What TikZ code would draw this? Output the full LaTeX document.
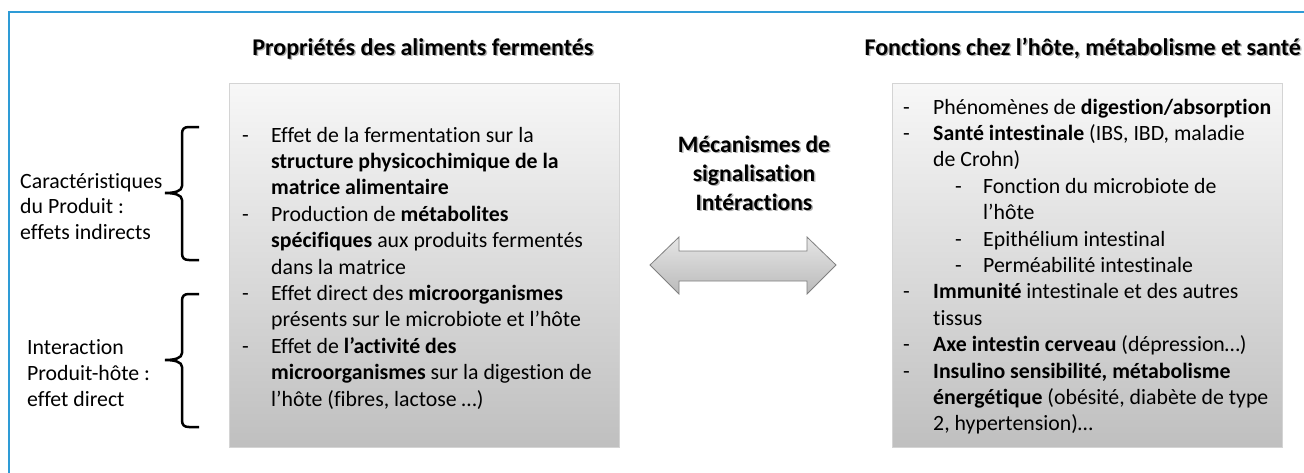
\documentclass[tikz,border=0pt]{standalone}
\usepackage{fontspec}
\setmainfont{Carlito}[Ligatures={NoCommon}]
\definecolor{frameblue}{HTML}{2E9BD6}
\begin{document}
\begin{tikzpicture}[x=1pt,y=-1pt,
  bodytext/.style={anchor=base west,inner sep=0pt,font=\fontsize{21.8}{26}\selectfont},
  labeltext/.style={anchor=base west,inner sep=0pt,font=\fontsize{21.8}{26}\selectfont},
  headtext/.style={inner sep=0pt,font=\bfseries\fontsize{24}{29}\selectfont},
  midtext/.style={anchor=base,inner sep=0pt,font=\bfseries\fontsize{23.6}{29}\selectfont},
  shadowed/.style={text=black!30},
  gbox/.style={draw=black!17,line width=0.8pt,top color=black!3,bottom color=black!25,anchor=north west,inner sep=0pt},
  bracepath/.style={line width=2.5pt,draw=black},
  frameline/.style={draw=frameblue,line width=2pt},
  twoarrow/.style={draw=black!50,line width=0.8pt,top color=black!10,bottom color=black!27}]
\newcommand{\dsh}{\makebox[29pt][l]{-}}
\newcommand{\sdsh}{\makebox[28pt][l]{-}}
\newcommand{\rdsh}{\makebox[30pt][l]{-}}
\useasboundingbox (0,0) rectangle (1304,472);
\fill[white] (0,0) rectangle (1304,472);
% frame
\draw[frameline] (9,480) -- (9,12) -- (1310,12);
% boxes
\node[gbox,minimum width=390pt,minimum height=364pt] (lbox) at (229,83) {};
\node[gbox,minimum width=390pt,minimum height=364pt] (rbox) at (892,83) {};
% titles
\node[headtext,shadowed,anchor=base] (t1s) at (424.5,56.5) {Propriétés des aliments fermentés};
\node[headtext,anchor=base] (t1) at (423,55) {Propriétés des aliments fermentés};
\node[headtext,shadowed,anchor=base east] (t2s) at (1302.5,56.5) {Fonctions chez l’hôte, métabolisme et santé};
\node[headtext,anchor=base east] (t2) at (1301,55) {Fonctions chez l’hôte, métabolisme et santé};
% middle
\node[midtext,shadowed] (m1s) at (755.5,153.5) {Mécanismes de};
\node[midtext,shadowed] (m2s) at (755.5,182.5) {signalisation};
\node[midtext,shadowed] (m3s) at (755.5,211.5) {Intéractions};
\node[midtext] (m1) at (754,152) {Mécanismes de};
\node[midtext] (m2) at (754,181) {signalisation};
\node[midtext] (m3) at (754,210) {Intéractions};
\path[twoarrow] (650,265) -- (679,237) -- (679,251) -- (807,251) -- (807,237) -- (836,265)
  -- (807,294) -- (807,281) -- (679,281) -- (679,294) -- cycle;
% left labels
\node[labeltext] (c1) at (20,188) {Caractéristiques};
\node[labeltext] (c2) at (20,213.5) {du Produit :};
\node[labeltext] (c3) at (20,239) {effets indirects};
\node[labeltext] (i1) at (27,354) {Interaction};
\node[labeltext] (i2) at (27,380) {Produit-hôte :};
\node[labeltext] (i3) at (27,406) {effet direct};
% braces
\foreach \t/\m/\b in {127/193/260, 294/360/427}{
  \draw[bracepath] (199,\t) -- (189,\t) .. controls (184,\t) and (182,{\t+2}) .. (182,{\t+7})
    -- (182,{\m-7}) .. controls (182,{\m-2}) and (175,\m) .. (165,\m)
    .. controls (175,\m) and (182,{\m+2}) .. (182,{\m+7})
    -- (182,{\b-7}) .. controls (182,{\b-2}) and (184,\b) .. (189,\b) -- (199,\b);
}
% left box text
\node[bodytext] (l1) at (242,142) {\dsh Effet de la fermentation sur la};
\node[bodytext] (l2) at (271,168.4) {\textbf{structure physicochimique de la}};
\node[bodytext] (l3) at (271,194.8) {\textbf{matrice alimentaire}};
\node[bodytext] (l4) at (242,221.2) {\dsh Production de \textbf{métabolites}};
\node[bodytext] (l5) at (271,247.6) {\textbf{spécifiques} aux produits fermentés};
\node[bodytext] (l6) at (271,274) {dans la matrice};
\node[bodytext] (l7) at (242,300.4) {\dsh Effet direct des \textbf{microorganismes}};
\node[bodytext] (l8) at (271,326.8) {présents sur le microbiote et l’hôte};
\node[bodytext] (l9) at (242,353.2) {\dsh Effet de \textbf{l’activité des}};
\node[bodytext] (l10) at (271,379.6) {\textbf{microorganismes} sur la digestion de};
\node[bodytext] (l11) at (271,406) {l’hôte (fibres, lactose …)};
% right box text
\node[bodytext] (r1) at (903,114) {\rdsh Phénomènes de \textbf{digestion/absorption}};
\node[bodytext] (r2) at (903,140.4) {\rdsh \textbf{Santé intestinale} (IBS, IBD, maladie};
\node[bodytext] (r3) at (933,166.8) {de Crohn)};
\node[bodytext] (r4) at (955,193.2) {\sdsh Fonction du microbiote de};
\node[bodytext] (r5) at (983,219.6) {l’hôte};
\node[bodytext] (r6) at (955,246) {\sdsh Epithélium intestinal};
\node[bodytext] (r7) at (955,272.4) {\sdsh Perméabilité intestinale};
\node[bodytext] (r8) at (903,298.8) {\rdsh \textbf{Immunité} intestinale et des autres};
\node[bodytext] (r9) at (933,325.2) {tissus};
\node[bodytext] (r10) at (903,351.6) {\rdsh \textbf{Axe intestin cerveau} (dépression…)};
\node[bodytext] (r11) at (903,378) {\rdsh \textbf{Insulino sensibilité, métabolisme}};
\node[bodytext] (r12) at (933,404.4) {\textbf{énergétique} (obésité, diabète de type};
\node[bodytext] (r13) at (933,430.8) {2, hypertension)…};
\end{tikzpicture}
\end{document}
